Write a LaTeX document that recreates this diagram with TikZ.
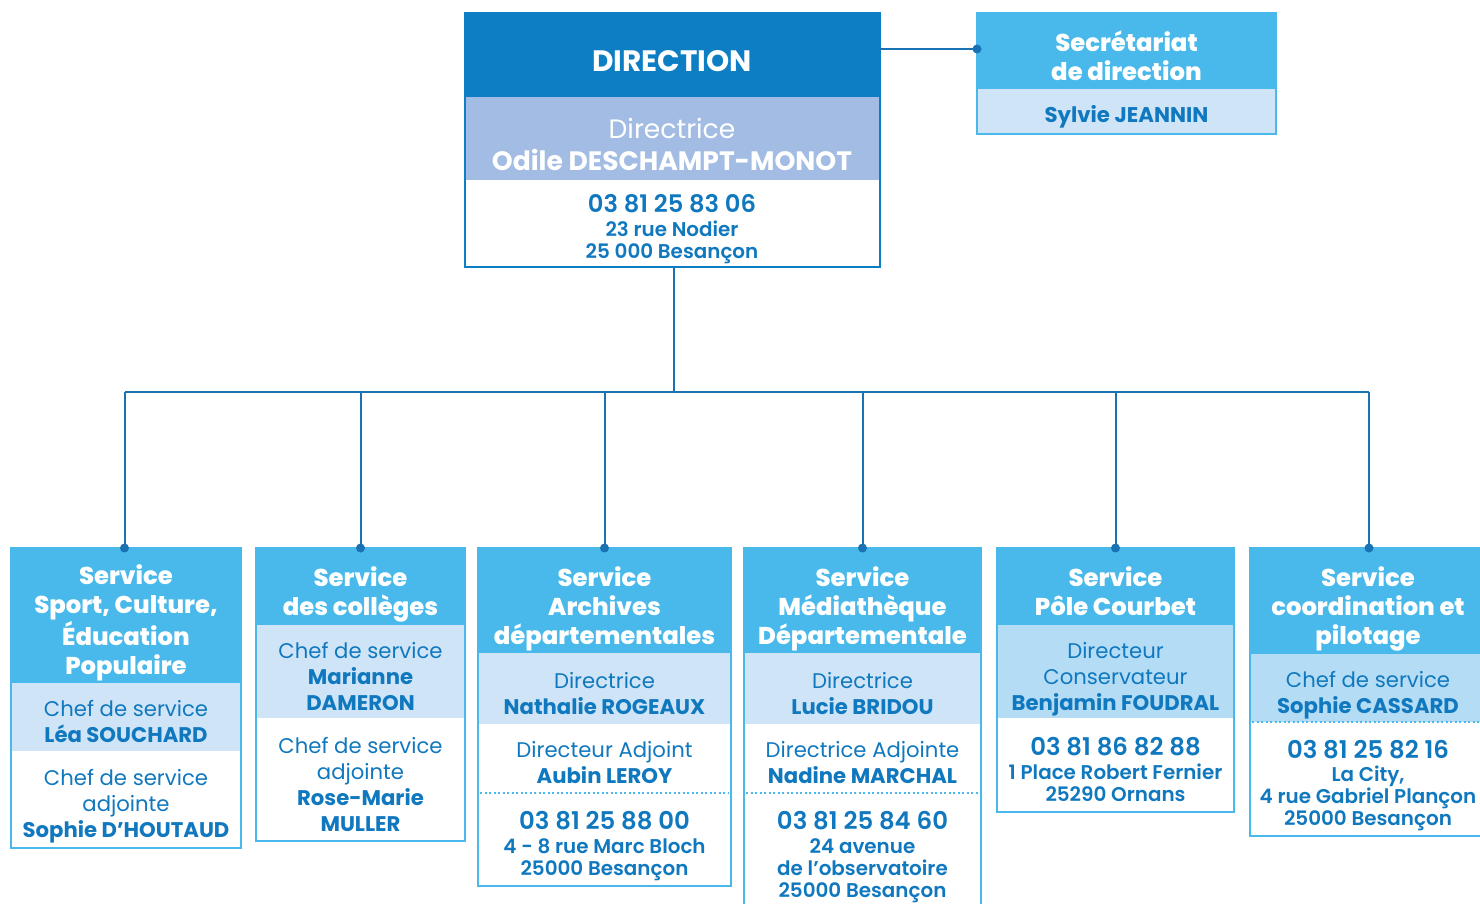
\documentclass[tikz,border=0pt]{standalone}
\usepackage{fontspec}
\setmainfont{Poppins}
\IfFontExistsTF{Poppins ExtraBold}{\newfontfamily\pophd{Poppins ExtraBold}\newcommand\hdsz{24.3}}{\newcommand\pophd{\bfseries}\newcommand\hdsz{24.9}}
\IfFontExistsTF{Poppins SemiBold}{\newfontfamily\popsemi{Poppins SemiBold}\newcommand\phsz{24.4}\newcommand\adsz{19.9}}{\newcommand\popsemi{\bfseries}\newcommand\phsz{24}\newcommand\adsz{19.3}}
\definecolor{dblue}{RGB}{14,126,196}
\definecolor{lblue}{RGB}{72,185,234}
\definecolor{steel}{RGB}{163,188,227}
\definecolor{pale}{RGB}{207,229,247}
\definecolor{paleb}{RGB}{180,220,245}
\definecolor{txt}{RGB}{16,120,190}
\definecolor{linec}{RGB}{24,114,180}
\tikzset{
  boxline/.style={draw=lblue, line width=2pt},
  hdtxt/.style={text=white, font=\pophd\fontsize{\hdsz}{29}\selectfont, align=center, inner sep=0pt},
  bandtxt/.style={text=txt, font=\fontsize{21.2}{26}\selectfont, align=center, inner sep=0pt},
  phtxt/.style={text=txt, font=\popsemi\fontsize{\phsz}{25}\selectfont, inner sep=0pt},
  adtxt/.style={text=txt, font=\popsemi\fontsize{\adsz}{22}\selectfont, align=center, inner sep=0pt},
  conn/.style={draw=linec, line width=2pt},
  dotmark/.style={circle, fill=linec, inner sep=0pt, minimum size=9pt},
  sepline/.style={draw=lblue, line width=2pt, dash pattern=on 2pt off 2.5pt}
}
\begin{document}
\begin{tikzpicture}[x=1pt,y=-1pt]
\useasboundingbox (0,0) rectangle (1480,903);
\fill[white] (0,0) rectangle (1480,903);

% ---------- DIRECTION ----------
\fill[dblue] (465,13) rectangle (880,97);
\fill[steel] (465,97) rectangle (880,180);
\draw[draw=dblue, line width=2pt] (465,13) rectangle (880,267);
\node (dirh) [text=white, font=\bfseries\fontsize{29.5}{32}\selectfont, inner sep=0pt] at (672,61) {DIRECTION};
\node (dirb) [text=white, font=\fontsize{26.6}{32}\selectfont, align=center, inner sep=0pt] at (672,144) {Directrice\\\textbf{Odile DESCHAMPT-MONOT}};
\node (dirp) [phtxt, font=\popsemi\fontsize{24.2}{25}\selectfont] at (672,204) {03 81 25 83 06};
\node (dira) [adtxt] at (672,242) {23 rue Nodier\\25 000 Besançon};

% ---------- SECRETARIAT ----------
\fill[lblue] (977,13) rectangle (1276,89);
\fill[pale] (977,89) rectangle (1276,134);
\draw[boxline] (977,13) rectangle (1276,134);
\node (sech) [hdtxt] at (1126.5,55.5) {Secrétariat\\de direction};
\node (secb) [text=txt, font=\bfseries\fontsize{21.3}{24}\selectfont, inner sep=0pt] at (1126.5,117) {Sylvie JEANNIN};
\coordinate (secl) at (977,49);
\coordinate (dirr) at (880,49);
\draw[conn] (dirr) -- (secl);
\node[dotmark] (secdot) at (secl) {};

% ---------- SERVICE BOXES ----------
% 1 Sport
\fill[lblue] (11,548) rectangle (241,683);
\fill[pale] (11,683) rectangle (241,751);
\draw[boxline] (11,548) rectangle (241,848);
\node (s1h) [hdtxt] at (126,623) {Service\\Sport, Culture,\\Éducation\\Populaire};
\node (s1b) [bandtxt] at (126,721) {Chef de service\\\textbf{Léa SOUCHARD}};
\node (s1w) [bandtxt] at (126,806) {Chef de service\\adjointe\\\textbf{Sophie D’HOUTAUD}};
\coordinate (s1t) at (124.5,548);

% 2 Collèges
\fill[lblue] (256,548) rectangle (465,625);
\fill[pale] (256,625) rectangle (465,718);
\draw[boxline] (256,548) rectangle (465,841);
\node (s2h) [hdtxt] at (360.5,594.5) {Service\\des collèges};
\node (s2b) [bandtxt] at (360.5,676) {Chef de service\\\textbf{Marianne}\\\textbf{DAMERON}};
\node (s2w) [bandtxt] at (360.5,784) {Chef de service\\adjointe\\\textbf{Rose-Marie}\\\textbf{MULLER}};
\coordinate (s2t) at (360.5,548);

% 3 Archives
\fill[lblue] (478,548) rectangle (731,653);
\fill[pale] (478,653) rectangle (731,724);
\draw[boxline] (478,548) rectangle (731,886);
\draw[sepline] (480,793) -- (729,793);
\node (s3h) [hdtxt] at (604.5,609) {Service\\Archives\\départementales};
\node (s3b) [bandtxt] at (604.5,694) {Directrice\\\textbf{Nathalie ROGEAUX}};
\node (s3w) [bandtxt] at (604.5,763) {Directeur Adjoint\\\textbf{Aubin LEROY}};
\node (s3p) [phtxt] at (604.5,821) {03 81 25 88 00};
\node (s3a) [adtxt] at (604.5,859.5) {4 - 8 rue Marc Bloch\\25000 Besançon};
\coordinate (s3t) at (604.5,548);

% 4 Mediatheque
\fill[lblue] (744,548) rectangle (981,653);
\fill[pale] (744,653) rectangle (981,724);
\draw[boxline] (744,548) rectangle (981,912);
\draw[sepline] (746,793) -- (979,793);
\node (s4h) [hdtxt] at (862.5,609) {Service\\Médiathèque\\Départementale};
\node (s4b) [bandtxt] at (862.5,694) {Directrice\\\textbf{Lucie BRIDOU}};
\node (s4w) [bandtxt] at (862.5,763) {Directrice Adjointe\\\textbf{Nadine MARCHAL}};
\node (s4p) [phtxt] at (862.5,821) {03 81 25 84 60};
\node (s4a) [adtxt] at (862.5,871) {24 avenue\\de l’observatoire\\25000 Besançon};
\coordinate (s4t) at (862.5,548);

% 5 Pole Courbet
\fill[lblue] (997,548) rectangle (1234,625);
\fill[paleb] (997,625) rectangle (1234,718);
\draw[boxline] (997,548) rectangle (1234,812);
\node (s5h) [hdtxt] at (1115.5,591.5) {Service\\Pôle Courbet};
\node (s5b) [bandtxt] at (1115.5,679) {Directeur\\Conservateur\\\textbf{Benjamin FOUDRAL}};
\node (s5p) [phtxt] at (1115.5,747) {03 81 86 82 88};
\node (s5a) [adtxt] at (1115.5,782.5) {1 Place Robert Fernier\\25290 Ornans};
\coordinate (s5t) at (1115.5,548);

% 6 Coordination
\fill[lblue] (1250,548) rectangle (1488,654);
\fill[paleb] (1250,654) rectangle (1488,722);
\draw[boxline] (1250,548) rectangle (1488,836);
\draw[sepline] (1252,722) -- (1488,722);
\node (s6h) [hdtxt] at (1368,609) {Service\\coordination et\\pilotage};
\node (s6b) [bandtxt] at (1368,695) {Chef de service\\\textbf{Sophie CASSARD}};
\node (s6p) [phtxt] at (1368,750) {03 81 25 82 16};
\node (s6a) [adtxt] at (1368,798.5) {La City,\\4 rue Gabriel Plançon\\25000 Besançon};
\coordinate (s6t) at (1369,548);

% ---------- CONNECTORS ----------
\coordinate (dirbot) at (673.5,267);
\coordinate (hub) at (673.5,392);
\draw[conn] (dirbot) -- (hub);
\draw[conn] (s1t |- hub) -- (s6t |- hub);
\foreach \s in {s1t,s2t,s3t,s4t,s5t,s6t}{
  \draw[conn] (\s |- hub) -- (\s);
  \node[dotmark] at (\s) {};
}
\end{tikzpicture}
\end{document}
